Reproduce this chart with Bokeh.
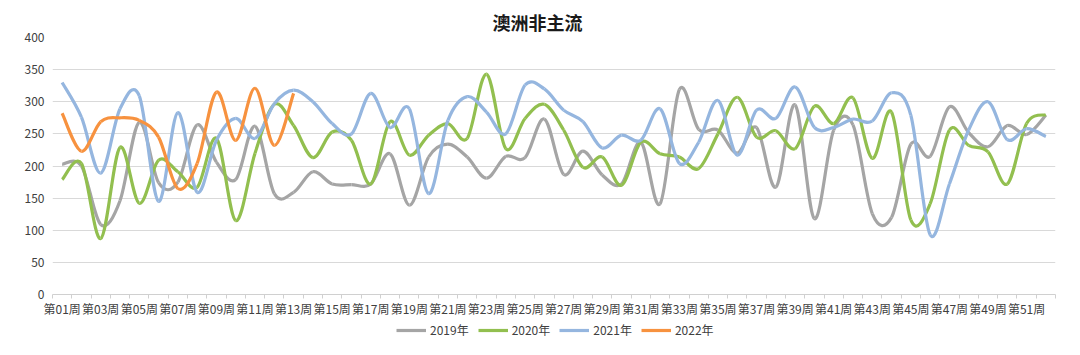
import numpy as np
from bokeh.plotting import figure
from bokeh.layouts import column
from bokeh.models import FixedTicker, Legend, LegendItem, Range1d
from bokeh.embed import file_html
from bokeh.resources import INLINE

weeks = [f"第{i:02d}周" for i in range(1, 53)]

y2019 = [203, 200, 109, 146, 268, 174, 175, 264, 206, 179, 262, 157,
         159, 191, 172, 171, 172, 219, 139, 214, 234, 214, 181, 215,
         213, 273, 187, 223, 186, 172, 237, 141, 319, 257, 256, 220,
         260, 167, 295, 118, 256, 264, 126, 120, 234, 215, 292, 252,
         230, 263, 249, 279]
y2020 = [179, 204, 87, 229, 142, 209, 191, 167, 243, 115, 220, 296,
         263, 213, 253, 240, 172, 269, 217, 248, 266, 243, 343, 227,
         274, 296, 256, 198, 214, 170, 237, 219, 214, 196, 250, 307,
         245, 255, 227, 293, 266, 306, 212, 284, 116, 141, 256, 232,
         222, 172, 266, 280]
y2021 = [330, 276, 189, 289, 309, 145, 283, 159, 240, 274, 243, 297,
         318, 300, 266, 250, 313, 260, 289, 157, 271, 308, 284, 250,
         326, 320, 287, 269, 228, 248, 240, 289, 204, 237, 302, 217,
         287, 274, 323, 260, 260, 273, 270, 314, 279, 93, 172, 256,
         300, 241, 258, 246]
y2022 = [282, 223, 269, 275, 271, 245, 165, 204, 315, 240, 321, 232, 313]

series_names = ["2019年", "2020年", "2021年", "2022年"]
series_values = [y2019, y2020, y2021, y2022]
colors = ["#A5A5A5", "#92BF4F", "#95B6DF", "#F7923F"]

font = "Noto Sans CJK SC"


def bezier_parts(vals):
    xs = np.arange(1, len(vals) + 1, dtype=float)
    ys = np.asarray(vals, dtype=float)
    n = len(vals)
    out = {k: [] for k in ("x0", "y0", "x1", "y1", "cx0", "cy0", "cx1", "cy1")}
    for i in range(n - 1):
        a = max(i - 1, 0)
        d = min(i + 2, n - 1)
        out["x0"].append(xs[i]); out["y0"].append(ys[i])
        out["x1"].append(xs[i + 1]); out["y1"].append(ys[i + 1])
        out["cx0"].append(xs[i] + (xs[i + 1] - xs[a]) / 6)
        out["cy0"].append(ys[i] + (ys[i + 1] - ys[a]) / 6)
        out["cx1"].append(xs[i + 1] - (xs[d] - xs[i]) / 6)
        out["cy1"].append(ys[i + 1] - (ys[d] - ys[i]) / 6)
    return out


p = figure(frame_width=1003, frame_height=257, output_backend="svg",
           toolbar_location=None,
           x_range=Range1d(0.5, 52.5), y_range=Range1d(0, 400),
           min_border_left=52, min_border_right=25, min_border_top=37,
           min_border_bottom=26)
p.outline_line_color = None
p.background_fill_color = "white"
p.border_fill_color = "white"

p.title.text = "澳洲非主流"
p.title.align = "left"
p.title.offset = 440
p.title.standoff = 6
p.title.text_font = font
p.title.text_font_size = "18px"
p.title.text_font_style = "bold"
p.title.text_color = "#1a1a1a"

p.yaxis.ticker = FixedTicker(ticks=list(range(0, 401, 50)))
p.yaxis.axis_line_color = None
p.yaxis.major_tick_line_color = None
p.yaxis.major_tick_out = 0
p.yaxis.minor_tick_line_color = None
p.yaxis.major_label_text_font = font
p.yaxis.major_label_text_font_size = "12px"
p.yaxis.major_label_text_color = "#404040"
p.yaxis.major_label_standoff = 8

odd = list(range(1, 53, 2))
p.xaxis.ticker = FixedTicker(ticks=odd, minor_ticks=[i + 0.5 for i in range(0, 53)])
p.xaxis.major_label_overrides = {i: weeks[i - 1] for i in odd}
p.xaxis.major_tick_line_color = None
p.xaxis.major_tick_out = 0
p.xaxis.minor_tick_in = 0
p.xaxis.minor_tick_out = 4
p.xaxis.minor_tick_line_color = "#D0D0D0"
p.xaxis.axis_line_color = "#D0D0D0"
p.xaxis.major_label_text_font = font
p.xaxis.major_label_text_font_size = "12px"
p.xaxis.major_label_text_color = "#404040"
p.xaxis.major_label_standoff = 1

p.xgrid.grid_line_color = None
p.ygrid.ticker = FixedTicker(ticks=list(range(50, 401, 50)))
p.ygrid.grid_line_color = "#D9D9D9"

for name, vals, c in zip(series_names, series_values, colors):
    parts = bezier_parts(vals)
    p.bezier(line_color=c, line_width=3.2, source=parts)

# legend strip below the chart
q = figure(width=1080, height=35, output_backend="svg", toolbar_location=None,
           min_border=0, x_axis_location=None, y_axis_location=None,
           x_range=Range1d(0, 1), y_range=Range1d(0, 1))
q.grid.visible = False
q.outline_line_color = None
q.border_fill_color = "white"
items = []
for name, c in zip(series_names, colors):
    r = q.line(x=[np.nan], y=[np.nan], line_color=c, line_width=3.2)
    items.append(LegendItem(label=name, renderers=[r]))
legend = Legend(items=items, orientation="horizontal", location=(344, 17),
                label_text_font=font, label_text_font_size="12px",
                label_text_color="#404040", glyph_width=30, glyph_height=12,
                label_standoff=4, spacing=9, border_line_color=None,
                margin=0, padding=2, background_fill_alpha=0)
q.add_layout(legend, "center")

layout = column(p, q, spacing=0)
open("out.html", "w").write(file_html(layout, INLINE))
